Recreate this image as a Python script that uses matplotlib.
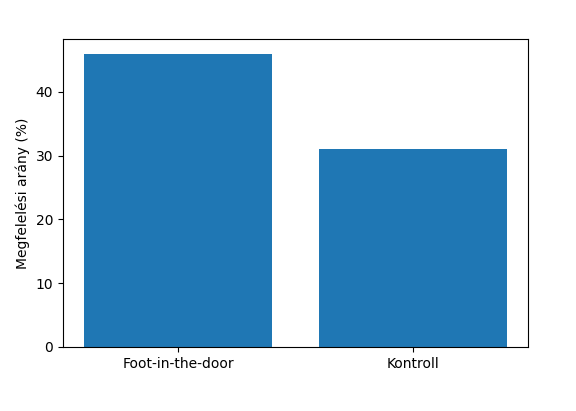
import matplotlib
matplotlib.use("Agg")
import matplotlib.pyplot as plt

groups = ["Foot-in-the-door", "Kontroll"]
rates = [46, 31]  # megfelelési arány (%)

fig, ax = plt.subplots(figsize=(5.76, 4.11), dpi=100)
fig.subplots_adjust(left=0.109, right=0.917, top=0.905, bottom=0.156)

ax.bar(groups, rates, color="#1f77b4")
ax.set_ylabel("Megfelelési arány (%)")

fig.savefig("out.png", dpi=100)
